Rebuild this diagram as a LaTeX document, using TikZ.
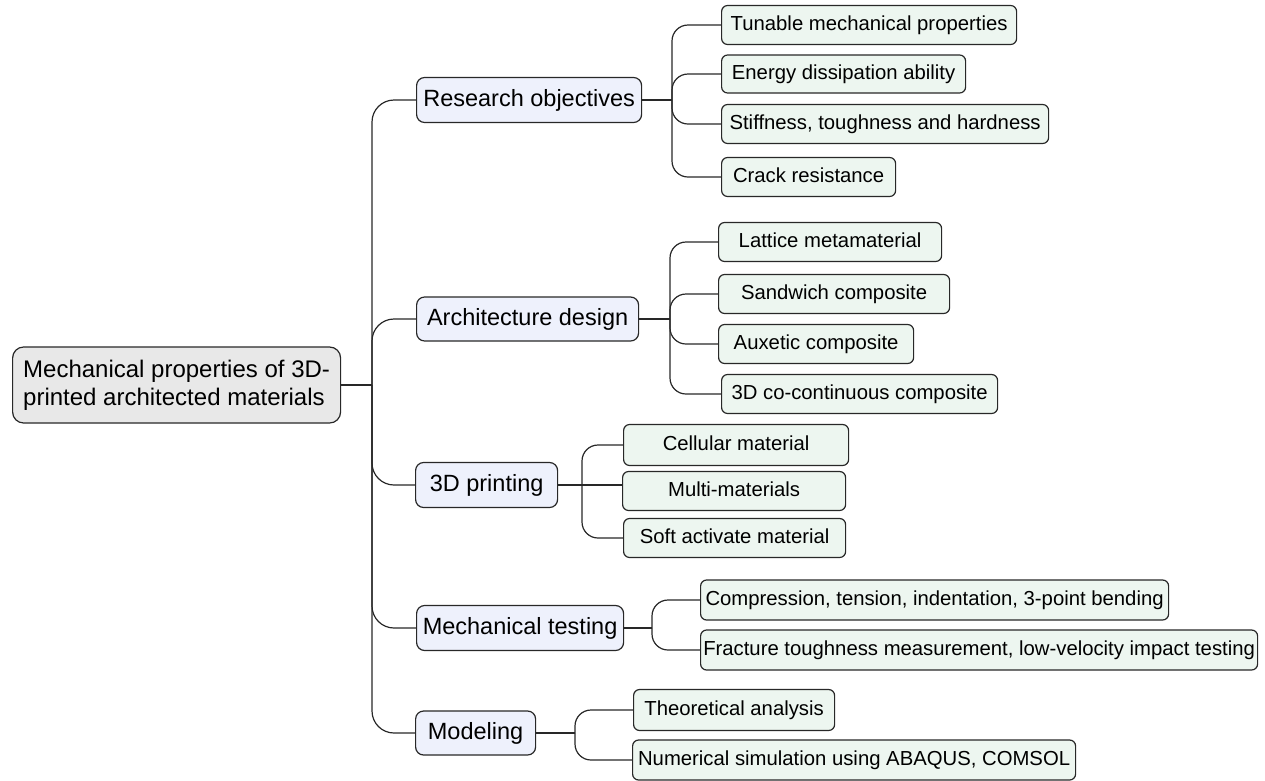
\documentclass[tikz,border=0pt]{standalone}
\usepackage{fontspec}
\setmainfont{Liberation Sans}
\definecolor{rootfill}{RGB}{232,232,232}
\definecolor{onefill}{RGB}{238,241,252}
\definecolor{twofill}{RGB}{237,246,240}
\definecolor{edge}{RGB}{40,40,40}
\begin{document}
\begin{tikzpicture}[x=1pt,y=-1pt,
  boxbase/.style={draw=edge, line width=1.2pt, anchor=west, inner sep=0pt, align=center},
  rootbox/.style={boxbase, fill=rootfill, rounded corners=11pt, align=left, font=\fontsize{24}{28}\selectfont},
  lonebox/.style={boxbase, fill=onefill, rounded corners=8pt, text height=17pt, text depth=4pt, font=\fontsize{23.5}{26}\selectfont},
  ltwobox/.style={boxbase, fill=twofill, rounded corners=6pt, text height=14.6pt, text depth=3.5pt, font=\fontsize{20.3}{23}\selectfont},
  conn/.style={draw=edge, line width=1.2pt, rounded corners=22pt},
  connb/.style={draw=edge, line width=1.2pt, rounded corners=16pt},
  plain/.style={draw=edge, line width=1.2pt}]
\useasboundingbox (0,0) rectangle (1265,780);
% root
\node[rootbox, minimum width=328, minimum height=76] (root) at (12,385) {Mechanical properties of 3D-\\printed architected materials};
% level 1
\node[lonebox, minimum width=225, minimum height=45] (ro) at (416,100) {Research objectives};
\node[lonebox, minimum width=222, minimum height=44] (ad) at (416,319) {Architecture design};
\node[lonebox, minimum width=142, minimum height=45] (pr) at (415,485) {3D printing};
\node[lonebox, minimum width=207, minimum height=45] (mt) at (416,628) {Mechanical testing};
\node[lonebox, minimum width=120, minimum height=44] (mo) at (415,733) {Modeling};
% level 2: research objectives
\node[ltwobox, minimum width=295, minimum height=39] (tmp) at (721,25) {Tunable mechanical properties};
\node[ltwobox, minimum width=244, minimum height=38] (eda) at (721,74) {Energy dissipation ability};
\node[ltwobox, minimum width=327, minimum height=39] (sth) at (721,124) {Stiffness, toughness and hardness};
\node[ltwobox, minimum width=174, minimum height=39] (cr) at (721,177) {Crack resistance};
% architecture design
\node[ltwobox, minimum width=223, minimum height=39] (lm) at (718,242) {Lattice metamaterial};
\node[ltwobox, minimum width=231, minimum height=39] (sc) at (718,294) {Sandwich composite};
\node[ltwobox, minimum width=195, minimum height=39] (ac) at (718,344) {Auxetic composite};
\node[ltwobox, minimum width=276, minimum height=39] (cc) at (721,394) {3D co-continuous composite};
% 3D printing
\node[ltwobox, minimum width=225, minimum height=41] (cm) at (623,445) {Cellular material};
\node[ltwobox, minimum width=223, minimum height=39] (mm) at (622,491) {Multi-materials};
\node[ltwobox, minimum width=222, minimum height=39] (sa) at (623,538) {Soft activate material};
% mechanical testing
\node[ltwobox, minimum width=468, minimum height=40] (cp) at (700,600) {Compression, tension, indentation, 3-point bending};
\node[ltwobox, minimum width=557, minimum height=40] (ft) at (700,650) {Fracture toughness measurement, low-velocity impact testing};
% modeling
\node[ltwobox, minimum width=201, minimum height=41] (ta) at (633,710) {Theoretical analysis};
\node[ltwobox, minimum width=443, minimum height=40] (ns) at (632,760) {Numerical simulation using ABAQUS, COMSOL};
% main trunk
\coordinate (f0) at (372,385);
\draw[plain] (root.east) -- (f0);
\foreach \c in {ro,ad,pr,mt,mo}
  \draw[conn] (f0) |- (\c.west);
% sub-trunks
\coordinate (f1) at (ro.east -| 672,0);
\draw[plain] (ro.east) -- (f1);
\foreach \c in {tmp,eda,sth,cr}
  \draw[connb] (f1) |- (\c.west);
\coordinate (f2) at (ad.east -| 670,0);
\draw[plain] (ad.east) -- (f2);
\foreach \c in {lm,sc,ac,cc}
  \draw[connb] (f2) |- (\c.west);
\coordinate (f3) at (pr.east -| 582,0);
\draw[plain] (pr.east) -- (pr.east -| mm.west);
\foreach \c in {cm,sa}
  \draw[connb] (f3) |- (\c.west);
\coordinate (f4) at (mt.east -| 652,0);
\draw[plain] (mt.east) -- (f4);
\foreach \c in {cp,ft}
  \draw[connb] (f4) |- (\c.west);
\coordinate (f5) at (mo.east -| 575,0);
\draw[plain] (mo.east) -- (f5);
\foreach \c in {ta,ns}
  \draw[connb] (f5) |- (\c.west);
\end{tikzpicture}
\end{document}
